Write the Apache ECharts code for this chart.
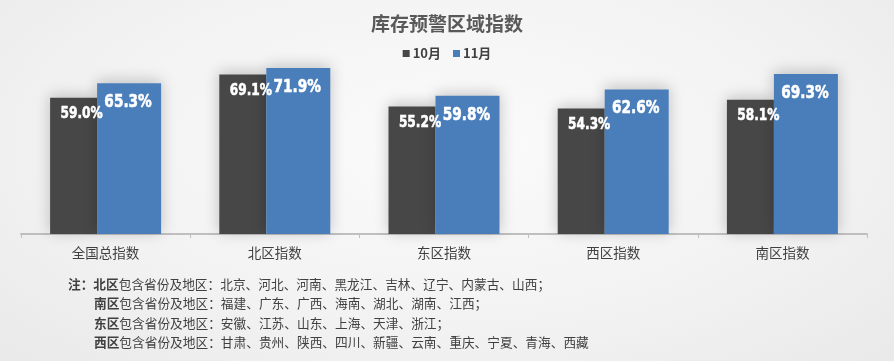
<!DOCTYPE html>
<html>
<head>
<meta charset="utf-8">
<script src="https://cdn.jsdelivr.net/npm/echarts@6/dist/echarts.min.js"></script>
<style>
html,body{margin:0;padding:0;}
body{width:894px;height:361px;background:radial-gradient(ellipse at 50% 40%, #fbfbfb 0%, #f2f2f2 60%, #e9e9e9 100%);}
#c{width:894px;height:361px;}
</style>
</head>
<body>
<div id="c"></div>
<script>
var titleText = '库存预警区域指数';
var seriesNames = ['10月', '11月'];
var categories = ['全国总指数', '北区指数', '东区指数', '西区指数', '南区指数'];
var octValues = [59.0, 69.1, 55.2, 54.3, 58.1];
var novValues = [65.3, 71.9, 59.8, 62.6, 69.3];
var noteRegions = ['北区', '南区', '东区', '西区'];
var noteProvinces = [
  '北京、河北、河南、黑龙江、吉林、辽宁、内蒙古、山西；',
  '福建、广东、广西、海南、湖北、湖南、江西；',
  '安徽、江苏、山东、上海、天津、浙江；',
  '甘肃、贵州、陕西、四川、新疆、云南、重庆、宁夏、青海、西藏'
];

var cjk = '"Noto Sans CJK SC", "Noto Sans", sans-serif';
var numFont = '"DejaVu Sans", "Liberation Sans", sans-serif';

var DARK_W = 47, BLUE_W = 64;

var noteLines = noteRegions.map(function (r, i) {
  return (i === 0 ? '{b|注：}' : '{s|}') + '{b|' + r + '}{n|包含省份及地区：' + noteProvinces[i] + '}';
}).join('\n');

function labelSeries(values, dx, dy, size) {
  return {
    type: 'custom',
    silent: true,
    z: 5,
    data: values.map(function (v, i) { return [i, v]; }),
    encode: {x: 0, y: 1},
    renderItem: function (params, api) {
      var pt = api.coord([api.value(0), api.value(1)]);
      return {
        type: 'text',
        x: pt[0] + dx,
        y: pt[1] + dy,
        scaleX: 0.76,
        style: {
          text: api.value(1).toFixed(1) + '%',
          x: 0, y: 0,
          align: 'center',
          verticalAlign: 'middle',
          fontFamily: numFont,
          fontWeight: 'bold',
          fontSize: size,
          fill: '#ffffff',
          stroke: '#ffffff',
          lineWidth: 0.6
        }
      };
    }
  };
}

var total = DARK_W + BLUE_W;
var darkCenter = -total / 2 + DARK_W / 2;
var blueCenter = -total / 2 + DARK_W + BLUE_W / 2;

var chart = echarts.init(document.getElementById('c'), null, {renderer: 'canvas'});
chart.setOption({
  backgroundColor: 'transparent',
  animation: false,
  title: {
    text: titleText,
    left: 'center',
    top: 9,
    textStyle: {fontFamily: cjk, fontSize: 19, fontWeight: 'bold', color: '#595959'}
  },
  legend: {
    data: seriesNames,
    top: 42,
    left: 'center',
    itemWidth: 7,
    itemHeight: 7,
    itemGap: 12,
    icon: 'rect',
    textStyle: {fontFamily: cjk, fontSize: 13, fontWeight: 'bold', color: '#404040', padding: [0, 0, 0, -2]}
  },
  grid: {left: 21, right: 27, top: 3, bottom: 127, containLabel: false},
  xAxis: {
    type: 'category',
    data: categories,
    axisLine: {lineStyle: {color: '#bfbfbf', width: 2}},
    axisTick: {show: true, length: 4, lineStyle: {color: '#bfbfbf', width: 1}},
    axisLabel: {fontFamily: cjk, fontSize: 13.5, color: '#404040', margin: 12}
  },
  yAxis: {
    type: 'value', min: 0, max: 100,
    show: false,
    splitLine: {show: false}
  },
  series: [
    {
      name: seriesNames[0],
      type: 'bar',
      data: octValues,
      barWidth: DARK_W,
      barGap: '0%',
      itemStyle: {color: '#474747', shadowBlur: 14, shadowColor: 'rgba(0,0,0,0.22)', shadowOffsetY: -2}
    },
    {
      name: seriesNames[1],
      type: 'bar',
      data: novValues,
      barWidth: BLUE_W,
      barGap: '0%',
      itemStyle: {color: '#4a7ebb', shadowBlur: 14, shadowColor: 'rgba(0,0,0,0.22)', shadowOffsetY: -2}
    },
    labelSeries(octValues, darkCenter + 8, 16, 16),
    labelSeries(novValues, blueCenter - 1, 19, 18)
  ],
  graphic: [
    {
      type: 'text',
      left: 68,
      top: 274,
      style: {
        text: noteLines,
        fontFamily: cjk,
        fontSize: 12.7,
        lineHeight: 19.5,
        fill: '#404040',
        rich: {
          b: {fontFamily: cjk, fontSize: 12.7, fontWeight: 'bold', color: '#404040', lineHeight: 19.5},
          n: {fontFamily: cjk, fontSize: 12.7, color: '#404040', lineHeight: 19.5},
          s: {width: 26, lineHeight: 19.5}
        }
      }
    }
  ]
});
</script>
</body>
</html>
